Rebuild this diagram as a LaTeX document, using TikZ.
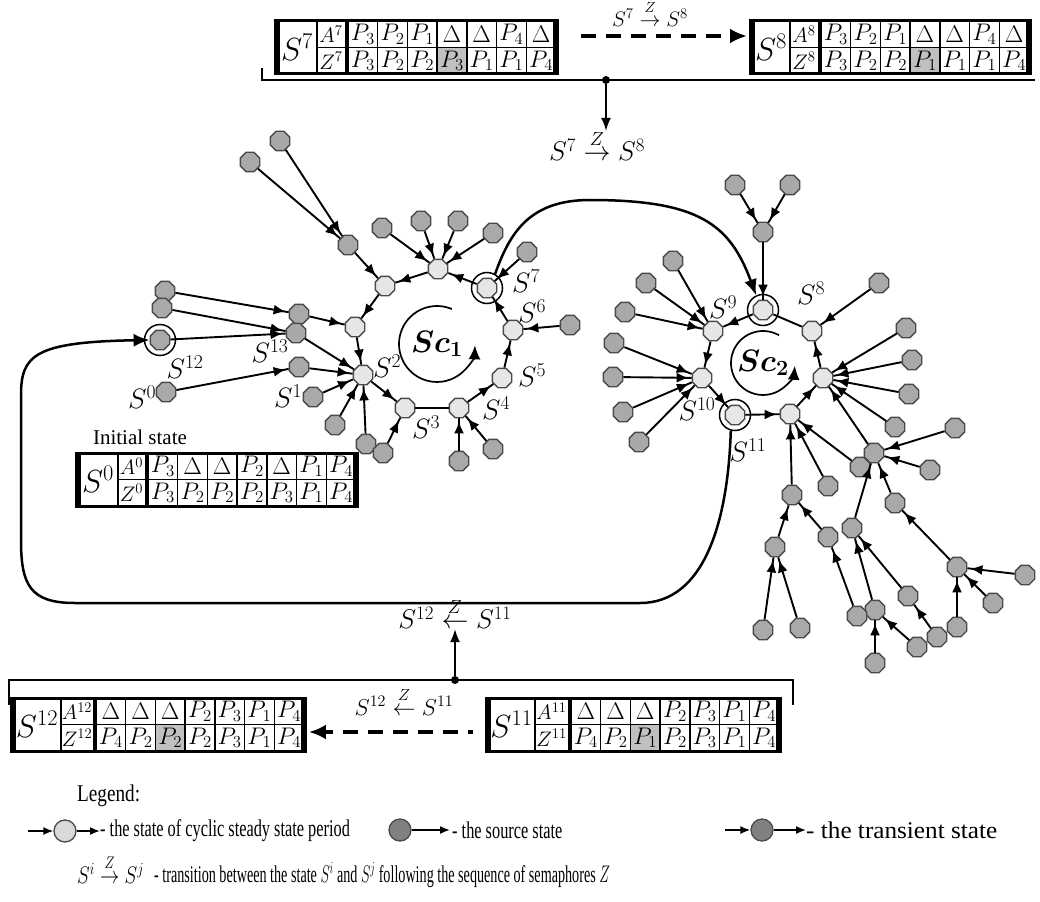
\RequirePackage{fix-cm}
\documentclass[tikz,border=0pt]{standalone}
\usepackage{fontspec}
\usepackage{graphicx}
\newfontfamily\timesfont{Liberation Serif}
\usetikzlibrary{arrows.meta,shapes.geometric,decorations.markings}

\definecolor{srcfill}{HTML}{A9A9A9}
\definecolor{cycfill}{HTML}{E6E6E6}
\definecolor{nodeline}{HTML}{4A4A4A}
\definecolor{cellshade}{HTML}{C0C0C0}
\definecolor{legdark}{HTML}{808080}
\definecolor{leglight}{HTML}{D9D9D9}

% state table: name, x, y, S width, A/Z width, index, A row, Z row, shaded Z cell
\newcommand{\statetab}[9]{%
  \begin{scope}[shift={(#2,#3)}]
    \pgfmathsetmacro{\tabD}{#4+#5+3}
    \pgfmathsetmacro{\tabW}{\tabD+7*29.7}
    \ifnum#9>0
      \fill[shadecell] ({\tabD+(#9-1)*29.7},26.5) rectangle ({\tabD+#9*29.7},53);
    \fi
    \node[bigcell] (#1) at ({#4/2},26.5) {$S^{#6}$};
    \node[azcell] at ({#4+#5/2},13.25) {$A^{#6}$};
    \node[azcell] at ({#4+#5/2},39.75) {$Z^{#6}$};
    \foreach \v [count=\i] in {#7}
      \node[cell] at ({\tabD+(\i-0.5)*29.7},13.25) {$\v$};
    \foreach \v [count=\i] in {#8}
      \node[cell] at ({\tabD+(\i-0.5)*29.7},39.75) {$\v$};
    \draw[gridline] (#4,0) -- (#4,53) (#4,26.5) -- (\tabW,26.5);
    \foreach \k in {1,...,6}
      \draw[gridline] ({\tabD+\k*29.7},0) -- ++(0,53);
    \draw[line width=4pt] ({\tabD-1.5},0) -- ++(0,53);
    \draw[line width=3pt] (0,0) rectangle (\tabW,53);
    \draw[line width=6pt] (0,-1.5) -- (0,54.5) (\tabW,-1.5) -- (\tabW,54.5);
    \coordinate (#1-wa) at (0,15);
    \coordinate (#1-ea) at (\tabW,15);
    \coordinate (#1-wb) at (0,34);
    \coordinate (#1-eb) at (\tabW,34);
  \end{scope}}

\newcommand{\zarrow}[1]{\mathrel{\mathop{#1}\limits^{\raisebox{4pt}{$\scriptstyle Z$}}}}
\newcommand{\legtext}[2]{\scalebox{#1}[1]{\timesfont #2}}

\begin{document}
\begin{tikzpicture}[x=1pt, y=-1pt,
    srcst/.style={regular polygon, regular polygon sides=8, minimum size=21pt, inner sep=0pt,
      draw=nodeline, line width=1.4pt, fill=srcfill},
    cycst/.style={srcst, fill=cycfill},
    ring/.style={circle, draw, line width=1.5pt, minimum size=31pt, inner sep=0pt},
    slabel/.style={font=\fontsize{28}{32}\selectfont, inner sep=0pt},
    sclabel/.style={font=\fontsize{31}{35}\selectfont\boldmath, inner sep=0pt},
    tlabel/.style={font=\fontsize{27}{31}\selectfont, inner sep=0pt},
    dlabel/.style={font=\fontsize{21}{25}\selectfont, inner sep=0pt},
    cell/.style={font=\fontsize{24}{27}\selectfont, inner sep=0pt},
    azcell/.style={font=\fontsize{21}{24}\selectfont, inner sep=0pt},
    bigcell/.style={font=\fontsize{32}{36}\selectfont, inner sep=0pt},
    gridline/.style={line width=1.4pt},
    shadecell/.style={fill=cellshade},
    link/.style={line width=1.9pt},
    arr/.style={postaction={decorate}, decoration={markings,
      mark=at position -3pt with {\arrow{Latex[length=12pt,width=10pt]}}}},
    cycarr/.style={line width=1.7pt, -{Latex[length=14pt,width=12pt]}},
    bigline/.style={line width=2.5pt, -{Latex[length=16pt,width=13pt]}},
    dasharr/.style={line width=4pt, dash pattern=on 15pt off 10pt, -{Latex[length=17pt,width=15pt]}},
    bracket/.style={line width=1.6pt},
    dotst/.style={circle, fill, minimum size=8pt, inner sep=0pt},
    uparr/.style={line width=1.6pt, -{Latex[length=13pt,width=10pt]}},
    legcyc/.style={circle, draw=nodeline, line width=1.3pt, fill=leglight, minimum size=22pt, inner sep=0pt},
    legsrc/.style={legcyc, fill=legdark},
    legarr/.style={line width=1.6pt, -{Latex[length=10pt,width=8pt]}},
    legfont/.style={font=\fontsize{24}{28}\selectfont, inner sep=0pt}]

  \path[use as bounding box, fill=white] (0,0) rectangle (1040,901);

  % top: S7 -> S8
  \statetab{t7}{277}{21}{40}{28}{7}{P_3,P_2,P_1,\Delta,\Delta,P_4,\Delta}{P_3,P_2,P_2,P_3,P_1,P_1,P_4}{4}
  \statetab{t8}{752}{21}{38}{28}{8}{P_3,P_2,P_1,\Delta,\Delta,P_4,\Delta}{P_3,P_2,P_2,P_1,P_1,P_1,P_4}{4}
  \draw[dasharr, shorten <=25pt, shorten >=5pt] (t7-ea) -- (t8-wa);
  \node[dlabel] (l78a) at (650,14) {$S^7 \zarrow{\rightarrow} S^8$};
  \draw[bracket] (262,68) -- (262,80) -- (1035,80);
  \node[dotst] (d78) at (606,80) {};
  \node[tlabel] (l78) at (597,146) {$S^7 \zarrow{\rightarrow} S^8$};
  \draw[uparr] (d78) -- (d78 |- l78.north);

  % initial state
  \node[font=\fontsize{21}{25}\selectfont\timesfont, inner sep=0pt] (init) at (140,437) {Initial state};
  \statetab{t0}{78}{453}{40}{27}{0}{P_3,\Delta,\Delta,P_2,\Delta,P_1,P_4}{P_3,P_2,P_2,P_2,P_3,P_1,P_4}{0}

  % Sc1 cycle
  \node[cycst] (s2) at (363,375) {};
  \node[cycst] (s3) at (405,408) {};
  \node[cycst] (s4) at (459,408) {};
  \node[cycst] (s5) at (502,378) {};
  \node[cycst] (s6) at (513,330) {};
  \node[cycst] (s7) at (487,288) {};
  \node[cycst] (ca) at (438,269) {};
  \node[cycst] (cb) at (385,286) {};
  \node[cycst] (cc) at (355,327) {};
  \node[srcst] (ta) at (348,245) {};
  \node[srcst] (tb) at (299,314) {};
  \node[srcst] (s13) at (296,333) {};
  \node[srcst] (tc) at (299,367) {};
  \node[srcst] (u1) at (250,162) {};
  \node[srcst] (u2) at (280,141) {};
  \node[srcst] (u3) at (382,228) {};
  \node[srcst] (u4) at (421,221) {};
  \node[srcst] (u5) at (458,221) {};
  \node[srcst] (u6) at (493,233) {};
  \node[srcst] (u7) at (165,291) {};
  \node[srcst] (u8) at (162,308) {};
  \node[srcst] (s12) at (160,340) {};
  \node[srcst] (s0) at (166,392) {};
  \node[srcst] (s1) at (313,397) {};
  \node[srcst] (u9) at (335,425) {};
  \node[srcst] (u10) at (366,444) {};
  \node[srcst] (u11) at (383,453) {};
  \node[srcst] (u12) at (459,461) {};
  \node[srcst] (u13) at (493,449) {};
  \node[srcst] (u14) at (570,325) {};
  \node[srcst] (u15) at (527,252) {};
  \node[ring] (r7) at (s7) {};
  \node[ring] (r12) at (s12) {};

  \foreach \a/\b in {u1/ta, u2/ta, ta/cb, u3/ca, u4/ca, u5/ca, u6/ca, ca/cb, cb/cc, cc/s2,
      u7/tb, tb/cc, u8/s13, s12/s13, s13/s2, s0/tc, tc/s2, s1/s2, u9/s2, u10/s2, s2/s3,
      u11/s3, s4/s5, s5/s6, s6/s7, s7/ca, u12/s4, u13/s4, u14/s6, u15/s7}
    \draw[link, arr] (\a) -- (\b);
  \draw[link] (s3) -- (s4);

  \node[sclabel] (sc1) at (437,344) {$Sc_1$};
  \draw[cycarr] (sc1) ++(293:38) arc[start angle=293, end angle=2, radius=38];

  \node[slabel] at (142,397) {$S^0$};
  \node[slabel] at (288,396) {$S^1$};
  \node[slabel] at (387,366) {$S^2$};
  \node[slabel] at (426,427) {$S^3$};
  \node[slabel] at (496,408) {$S^4$};
  \node[slabel] at (532,375) {$S^5$};
  \node[slabel] at (532,311) {$S^6$};
  \node[slabel] at (526,281) {$S^7$};
  \node[slabel] at (185,367) {$S^{12}$};
  \node[slabel] at (270,351) {$S^{13}$};

  % Sc2 cycle
  \node[cycst] (s8) at (763,310) {};
  \node[cycst] (s9) at (713,331) {};
  \node[cycst] (s10) at (702,378) {};
  \node[cycst] (s11) at (735,415) {};
  \node[cycst] (cd) at (790,414) {};
  \node[cycst] (ce) at (823,378) {};
  \node[cycst] (cf) at (812,331) {};
  \node[srcst] (tu) at (763,232) {};
  \node[srcst] (v1) at (735,185) {};
  \node[srcst] (v2) at (790,185) {};
  \node[srcst] (v3) at (673,261) {};
  \node[srcst] (v4) at (646,283) {};
  \node[srcst] (v5) at (625,312) {};
  \node[srcst] (v6) at (614,343) {};
  \node[srcst] (v7) at (613,377) {};
  \node[srcst] (v8) at (623,412) {};
  \node[srcst] (v9) at (639,442) {};
  \node[srcst] (w1) at (879,283) {};
  \node[srcst] (w2) at (906,328) {};
  \node[srcst] (w3) at (912,360) {};
  \node[ring] (r8) at (s8) {};
  \node[ring] (r11) at (s11) {};

  % lower tree
  \node[srcst] (tA) at (792,495) {};
  \node[srcst] (x1) at (828,486) {};
  \node[srcst] (x2) at (860,467) {};
  \node[srcst] (hub) at (874,453) {};
  \node[srcst] (x3) at (909,394) {};
  \node[srcst] (x4) at (895,427) {};
  \node[srcst] (x5) at (955,428) {};
  \node[srcst] (x6) at (930,470) {};
  \node[srcst] (tB) at (895,503) {};
  \node[srcst] (tC) at (852,528) {};
  \node[srcst] (tD) at (957,567) {};
  \node[srcst] (x7) at (1025,575) {};
  \node[srcst] (x8) at (993,603) {};
  \node[srcst] (x9) at (957,627) {};
  \node[srcst] (tE) at (875,610) {};
  \node[srcst] (tF) at (908,596) {};
  \node[srcst] (x10) at (875,663) {};
  \node[srcst] (x11) at (917,647) {};
  \node[srcst] (x12) at (937,637) {};
  \node[srcst] (tG) at (775,547) {};
  \node[srcst] (tH) at (828,537) {};
  \node[srcst] (x13) at (763,630) {};
  \node[srcst] (x14) at (800,628) {};
  \node[srcst] (x15) at (857,616) {};

  \foreach \a/\b in {s8/s9, s9/s10, s10/s11, s11/cd, cd/ce, ce/cf, v1/tu, v2/tu, tu/s8,
      v3/s9, v4/s9, v5/s9, v6/s10, v7/s10, v8/s10, v9/s10, w1/cf, w2/ce, w3/ce,
      tA/cd, x1/cd, x2/cd, hub/ce, x3/ce, x4/ce, x5/hub, x6/hub, tB/hub, tC/hub,
      tD/tB, x7/tD, x8/tD, x9/tD, tE/tC, tF/tC, x10/tE, x11/tE, x12/tF,
      tG/tA, tH/tA, x13/tG, x14/tG, x15/tH}
    \draw[link, arr] (\a) -- (\b);
  \draw[link] (cf) -- (s8);

  \node[sclabel] (sc2) at (763,363) {$Sc_2$};
  \draw[cycarr] (sc2) ++(300:32) arc[start angle=300, end angle=5, radius=32];

  \node[slabel] at (811,293) {$S^8$};
  \node[slabel] at (723,307) {$S^9$};
  \node[slabel] at (697,409) {$S^{10}$};
  \node[slabel] at (748,450) {$S^{11}$};

  % transitions between the cycles
  \draw[bigline] (r7.60) .. controls (510,232) and (530,200) .. (590,200)
    .. controls (700,200) and (730,225) .. (r8.115);
  \draw[bigline] (r11.255) .. controls (728,520) and (705,603) .. (640,603) -- (75,603)
    .. controls (30,603) and (21,585) .. (21,540) -- (21,395)
    .. controls (21,355) and (35,342) .. (s12.west);

  % bottom: S11 -> S12
  \node[tlabel] (l1211) at (455,614) {$S^{12} \zarrow{\leftarrow} S^{11}$};
  \node[dotst] (d1211) at (455,680) {};
  \draw[uparr] (d1211) -- (l1211.south);
  \draw[bracket] (9,705) -- (9,680) -- (793,680) -- (793,705);
  \statetab{t12}{13}{698}{48}{32}{12}{\Delta,\Delta,\Delta,P_2,P_3,P_1,P_4}{P_4,P_2,P_2,P_2,P_3,P_1,P_4}{3}
  \statetab{t11}{488}{698}{47}{33}{11}{\Delta,\Delta,\Delta,P_2,P_3,P_1,P_4}{P_4,P_2,P_1,P_2,P_3,P_1,P_4}{3}
  \draw[dasharr, dash phase=10pt, shorten <=15pt, shorten >=5pt] (t11-wb) -- (t12-eb);
  \node[dlabel, font=\fontsize{23}{27}\selectfont] (l1211a) at (404,702) {$S^{12} \zarrow{\leftarrow} S^{11}$};

  % legend
  \node[legfont, anchor=west] (leg) at (77,796) {\legtext{0.8}{Legend:}};
  \node[legcyc] (lg1) at (65,831) {};
  \coordinate (lg1a) at (28,831);
  \coordinate (lg1b) at (100,831);
  \draw[legarr] (lg1a) -- (lg1);
  \draw[legarr] (lg1) -- (lg1b);
  \node[legfont, anchor=west] (lt1) at (100,831) {\legtext{0.68}{- the state of cyclic steady state period}};
  \node[legsrc] (lg2) at (400,830) {};
  \coordinate (lg2b) at (450,830);
  \draw[legarr] (lg2) -- (lg2b);
  \node[legfont, anchor=west] (lt2) at (452,830) {\legtext{0.68}{- the source state}};
  \node[legsrc] (lg3) at (762,830) {};
  \coordinate (lg3a) at (725,830);
  \coordinate (lg3b) at (806,830);
  \draw[legarr] (lg3a) -- (lg3);
  \draw[legarr] (lg3) -- (lg3b);
  \node[legfont, anchor=west] (lt3) at (806,830) {\legtext{1.05}{- the transient state}};
  \node[legfont, anchor=west] (lt4) at (77,870) {\legtext{0.8}{$S^i \zarrow{\rightarrow} S^j$}};
  \node[legfont, anchor=west] (lt5) at (154,875) {\legtext{0.59}{- transition between the state $S^i$ and $S^j$ following the sequence of semaphores $Z$}};
\end{tikzpicture}
\end{document}
